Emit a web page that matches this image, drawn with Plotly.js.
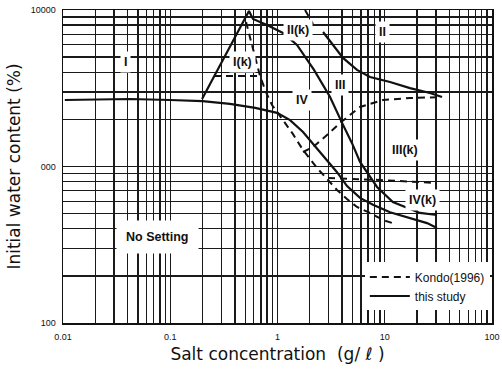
<!DOCTYPE html>
<html>
<head>
<meta charset="utf-8">
<script src="https://cdn.plot.ly/plotly-3.0.1.min.js"></script>
<style>html,body{margin:0;padding:0;background:#fff;}#chart{width:502px;height:372px;}</style>
</head>
<body>
<div id="chart"></div>
<script>
// ---- data (salt concentration g/l, initial water content %) ----
// This study
const studyA_x = [0.0104, 0.042, 0.1, 0.2, 0.36, 0.62, 0.99, 1.31, 1.73, 2.14, 2.66, 3.59, 4.45, 5.88, 7.77, 11.2, 17.2, 24.8, 30.7];
const studyA_y = [2660, 2700, 2660, 2620, 2510, 2370, 2200, 1980, 1660, 1390, 1170, 920, 750, 630, 570, 510, 470, 435, 405];
const studyB_x = [0.198, 0.542, 0.591, 0.798, 1.125, 1.52, 2.19, 3.09, 4.0, 4.95, 5.88, 8.47, 11.9, 16.1, 21.3, 30.7];
const studyB_y = [2700, 9850, 8760, 8020, 7130, 5980, 4140, 2780, 1900, 1410, 1070, 740, 593, 543, 505, 490];
const studyC_x = [2.66, 3.29, 4.08, 5.51, 7.29, 11.2, 17.2, 26.4, 34.2];
const studyC_y = [7230, 5980, 4940, 4140, 3730, 3470, 3170, 2950, 2780];
// Kondo (1996)
const kondoBox_x = [0.256, 0.687];
const kondoBox_y = [3790, 3790];
const kondoA_x = [0.509, 0.554, 0.63, 0.687, 0.781, 0.889, 1.125, 1.395, 1.729, 2.335, 2.958, 3.587, 4.446, 5.511, 7.288, 9.63, 11.69];
const kondoA_y = [8380, 6620, 4790, 3790, 2990, 2470, 1980, 1610, 1275, 978, 820, 708, 620, 551, 505, 455, 436];
const kondoB_x = [1.729, 2.143, 2.894, 3.825, 5.876, 9.63, 17.19, 34.19];
const kondoB_y = [1238, 1332, 1590, 1897, 2400, 2660, 2740, 2780];
const kondoC_x = [2.958, 9.03, 30.7];
const kondoC_y = [844, 820, 785];
const kondoD_x = [1.805, 2.143];
const kondoD_y = [10000, 8140];

// ---- axes ticks ----
const xTickVals = [0.01, 0.1, 1, 10, 100];
const xTickText = ['0.01', '0.1', '1', '10', '100'];
const yTickVals = [100, 1000, 10000];
const yTickText = ['100', '000', '10000'];

// region labels
const regionLabels = ['I', 'I(k)', 'II(k)', 'II', 'III', 'IV', 'III(k)', 'IV(k)', 'No Setting'];

function gridTicks(decades, labelVals, labelText) {
  const vals = [], text = [];
  for (let d = 0; d < decades.length; d++) {
    const base = decades[d];
    const maxM = (d === decades.length - 1) ? 1 : 9;
    for (let m = 1; m <= maxM; m++) {
      const v = +(base * m).toPrecision(6);
      vals.push(v);
      const idx = labelVals.indexOf(v);
      text.push(idx >= 0 ? labelText[idx] : '');
    }
  }
  return {vals, text};
}
const xg = gridTicks(xTickVals, xTickVals, xTickText);
const yg = gridTicks(yTickVals, yTickVals, yTickText);

const solid = {color: '#111', width: 2.2, dash: 'solid'};
const dashed = {color: '#111', width: 2, dash: '7px,5px'};

const traces = [
  {x: kondoA_x, y: kondoA_y, mode: 'lines', line: dashed, name: 'Kondo(1996)', showlegend: true, legendrank: 1},
  {x: kondoBox_x, y: kondoBox_y, mode: 'lines', line: dashed, showlegend: false},
  {x: kondoB_x, y: kondoB_y, mode: 'lines', line: dashed, showlegend: false},
  {x: kondoC_x, y: kondoC_y, mode: 'lines', line: dashed, showlegend: false},
  {x: kondoD_x, y: kondoD_y, mode: 'lines', line: dashed, showlegend: false},
  {x: studyA_x, y: studyA_y, mode: 'lines', line: solid, name: 'this study', showlegend: true, legendrank: 2},
  {x: studyB_x, y: studyB_y, mode: 'lines', line: solid, showlegend: false},
  {x: studyC_x, y: studyC_y, mode: 'lines', line: solid, showlegend: false}
];

const lx = px => -2 + (px - 63) / 107.25;
const ly = py => 4 - (py - 10) / 156.5;
const labelPos = [[125, 62], [242, 62], [298, 30], [382, 32], [340, 85], [302, 100], [405, 150], [422, 200], [157, 237]];
const annotations = regionLabels.map((t, i) => ({
  x: lx(labelPos[i][0]), y: ly(labelPos[i][1]), xref: 'x', yref: 'y',
  text: t, showarrow: false, bgcolor: '#fff',
  borderpad: t === 'No Setting' ? 9 : 3,
  font: {family: 'Liberation Sans, Arial, sans-serif', size: 12.5, color: '#111', weight: 'bold'}
}));

const axisCommon = {
  type: 'log', tickmode: 'array', showgrid: true, gridcolor: '#1a1a1a', gridwidth: 1.4,
  showline: true, linecolor: '#111', linewidth: 1.5, mirror: true, ticks: '', zeroline: false,
  tickfont: {family: 'Liberation Sans, Arial, sans-serif', size: 9, color: '#111'}
};

const layout = {
  width: 502, height: 372,
  margin: {l: 63, r: 10, t: 10, b: 49},
  paper_bgcolor: '#fff', plot_bgcolor: '#fff',
  xaxis: Object.assign({}, axisCommon, {
    range: [-2, 2], tickvals: xg.vals, ticktext: xg.text, ticklabelstandoff: 5,
    title: {text: 'Salt concentration  (g/ ℓ )', standoff: 7,
      font: {family: 'DejaVu Sans, sans-serif', size: 17, color: '#111'}}
  }),
  yaxis: Object.assign({}, axisCommon, {
    range: [2, 4], tickvals: yg.vals, ticktext: yg.text, ticklabelstandoff: 4,
    title: {text: 'Initial water content (%)', standoff: 5,
      font: {family: 'DejaVu Sans, sans-serif', size: 17, color: '#111'}}
  }),
  legend: {
    x: 0.995, y: 0.04, xanchor: 'right', yanchor: 'bottom', bgcolor: '#fff',
    borderwidth: 0, tracegroupgap: 0, itemwidth: 40,
    font: {family: 'Liberation Sans, Arial, sans-serif', size: 12, color: '#111'}
  },
  annotations: annotations,
  showlegend: true
};

Plotly.newPlot('chart', traces, layout, {staticPlot: true, displayModeBar: false});
</script>
</body>
</html>
